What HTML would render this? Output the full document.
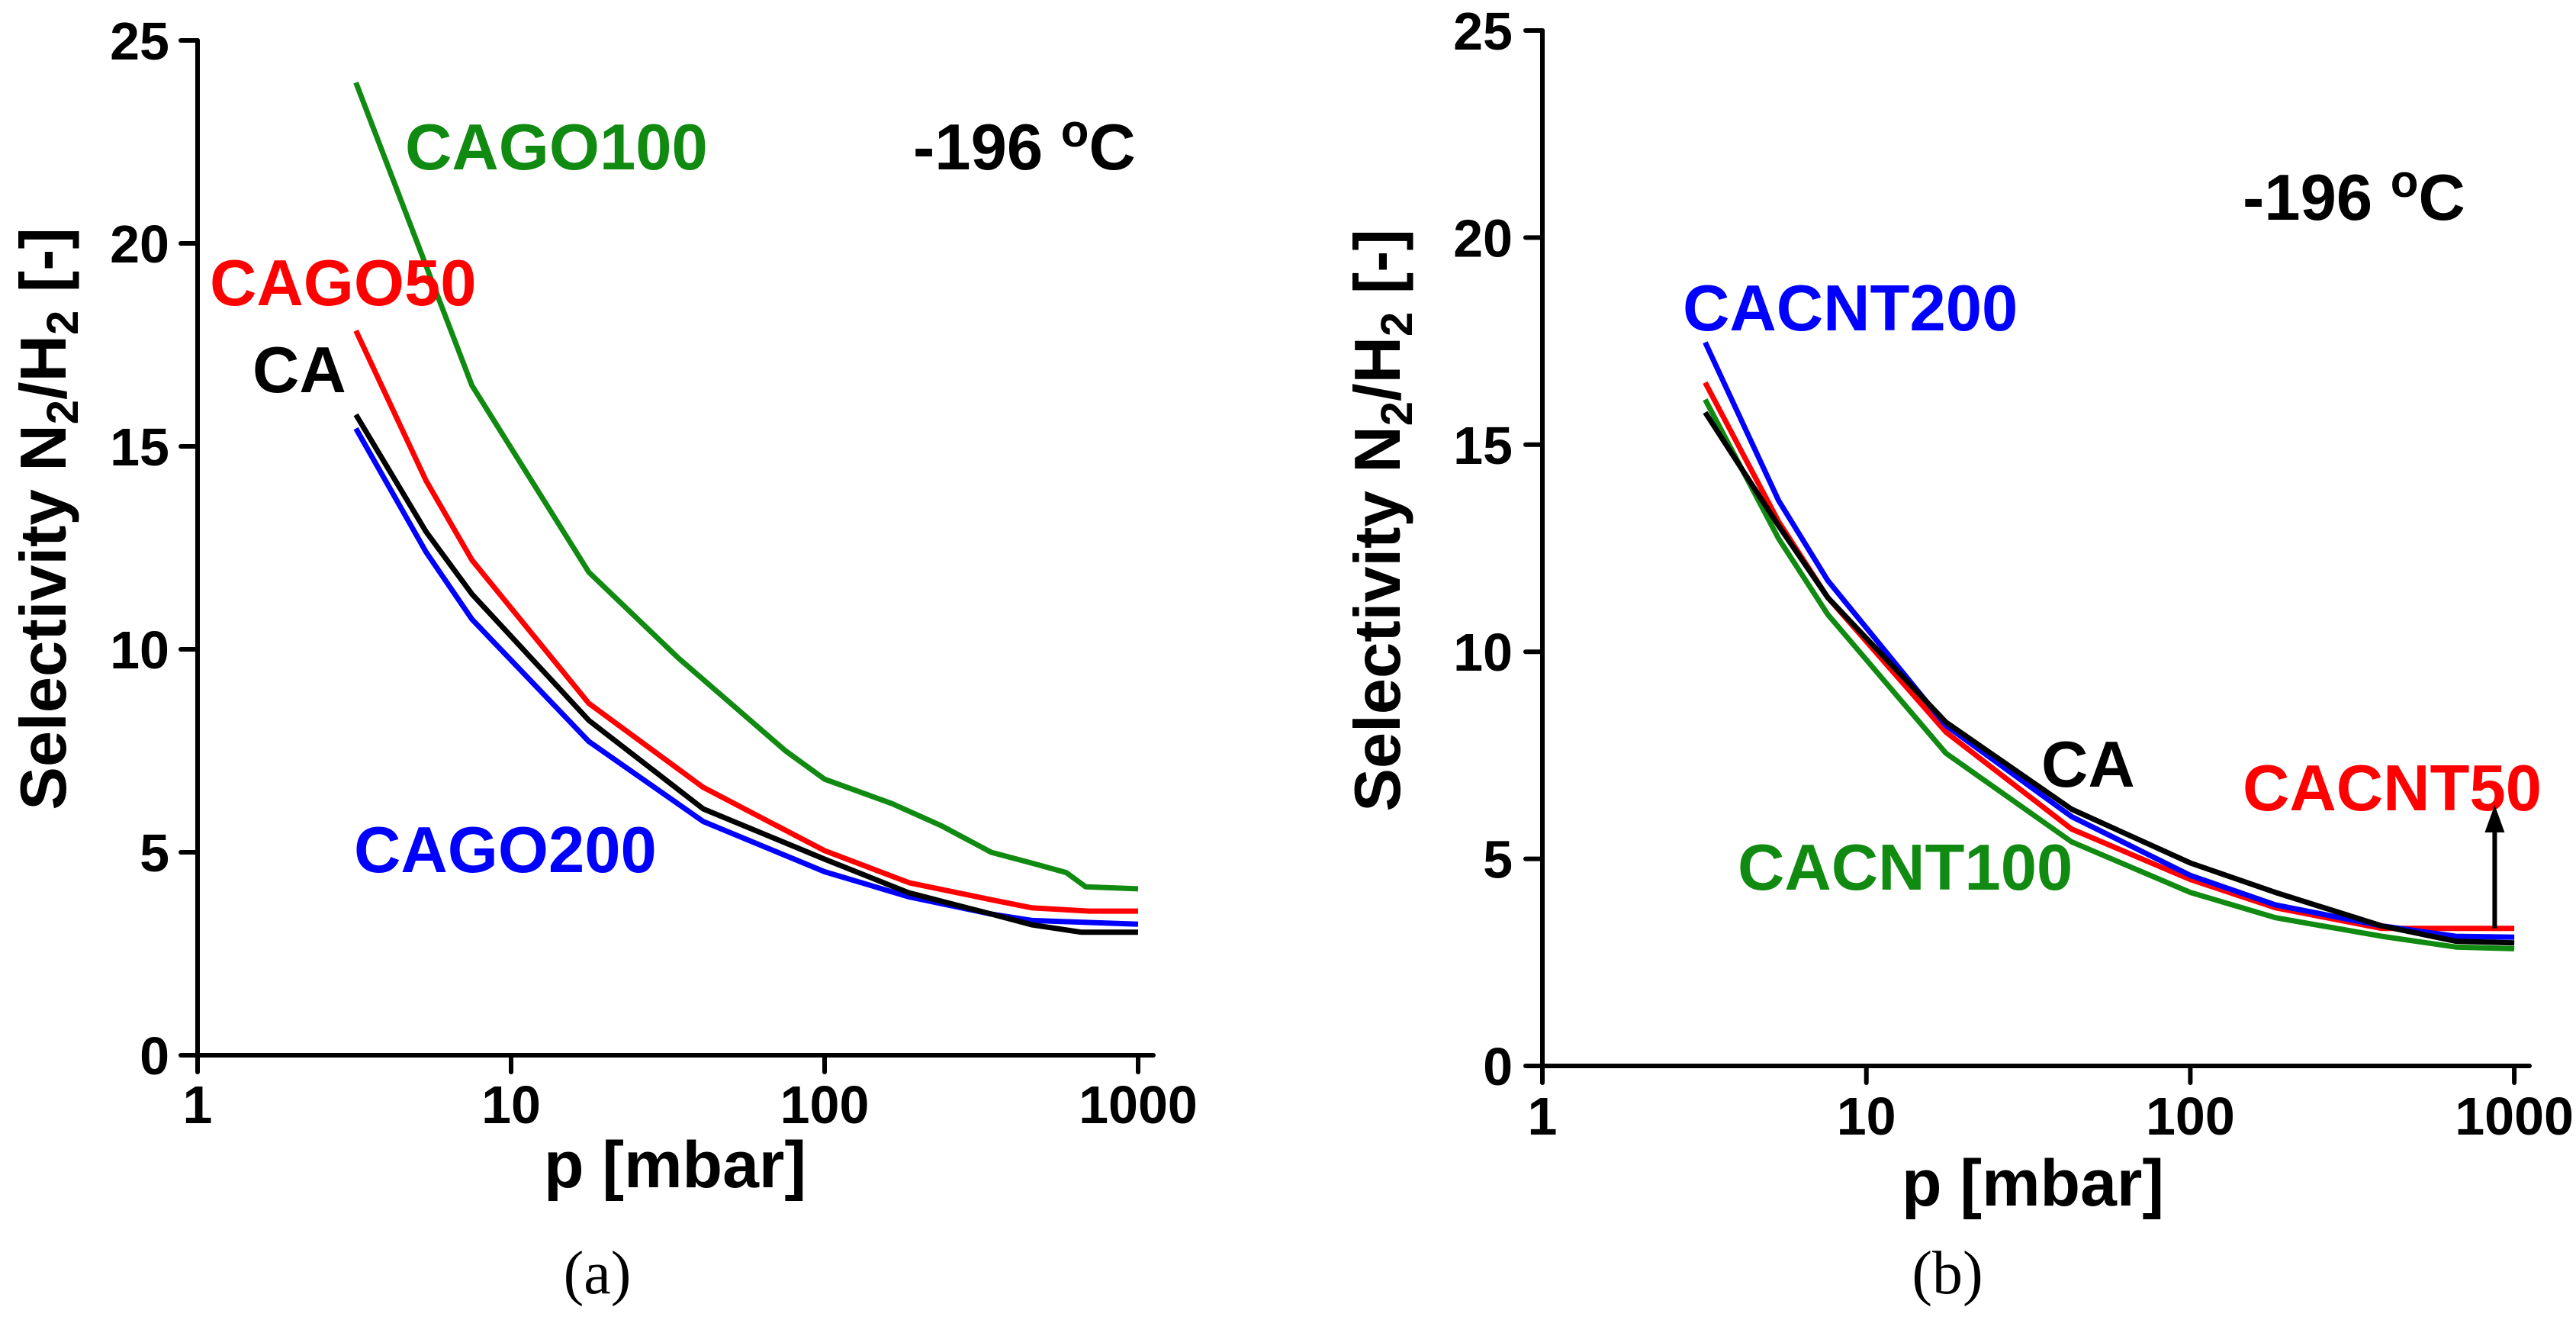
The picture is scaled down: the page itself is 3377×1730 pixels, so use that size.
<!DOCTYPE html>
<html><head><meta charset="utf-8"><style>
html,body{margin:0;padding:0;background:#fff;}
svg{display:block;font-family:"Liberation Sans",Arial,sans-serif;}
</style></head>
<body>
<svg id="fig" width="3377" height="1730" viewBox="0 0 3377 1730" xmlns="http://www.w3.org/2000/svg">
<g id="chartA"></g>
<g id="chartB"></g>
</svg>
<script>
// ---- shared axis data ----
const xTickValues = [1, 10, 100, 1000];
const xTickLabels = ["1", "10", "100", "1000"];
const yTickValues = [0, 5, 10, 15, 20, 25];
const yTickLabels = ["0", "5", "10", "15", "20", "25"];

// ---- chart (a) data ----
const pA_CAGO100 = [3.2, 7.5, 17.7, 34, 75, 100, 164, 235, 340, 460, 590, 680, 1000];
const sA_CAGO100 = [23.96, 16.5, 11.9, 9.8, 7.5, 6.8, 6.2, 5.66, 5.0, 4.73, 4.5, 4.15, 4.1];
const pA_CAGO50 = [3.2, 5.35, 7.5, 17.7, 41, 100, 186, 340, 460, 700, 1000];
const sA_CAGO50 = [17.85, 14.16, 12.2, 8.67, 6.6, 5.04, 4.25, 3.83, 3.63, 3.55, 3.55];
const pA_CA = [3.2, 5.35, 7.5, 17.7, 41, 100, 186, 340, 460, 660, 1000];
const sA_CA = [15.78, 12.9, 11.36, 8.25, 6.07, 4.83, 4.0, 3.48, 3.21, 3.03, 3.03];
const pA_CAGO200 = [3.2, 5.35, 7.5, 17.7, 41, 100, 186, 340, 460, 1000];
const sA_CAGO200 = [15.44, 12.4, 10.74, 7.73, 5.76, 4.52, 3.9, 3.48, 3.32, 3.23];

// ---- chart (b) data ----
const pB_CACNT200 = [3.18, 5.36, 7.6, 17.6, 43, 100, 183, 390, 660, 1000];
const sB_CACNT200 = [17.47, 13.65, 11.72, 8.22, 6.02, 4.6, 3.89, 3.38, 3.13, 3.11];
const pB_CA = [3.18, 5.36, 7.6, 17.6, 43, 100, 183, 390, 660, 1000];
const sB_CA = [15.78, 13.04, 11.31, 8.3, 6.2, 4.9, 4.19, 3.38, 3.01, 2.97];
const pB_CACNT50 = [3.18, 5.36, 7.6, 17.6, 43, 100, 183, 390, 1000];
const sB_CACNT50 = [16.5, 13.14, 11.31, 8.06, 5.72, 4.5, 3.82, 3.32, 3.32];
const pB_CACNT100 = [3.18, 5.36, 7.6, 17.6, 43, 100, 183, 390, 660, 1000];
const sB_CACNT100 = [16.09, 12.73, 10.9, 7.55, 5.41, 4.19, 3.58, 3.13, 2.87, 2.83];
const arrowFromB = [870, 3.32];
const arrowToB = [870, 6.3];

const NS = "http://www.w3.org/2000/svg";
function mk(parent, tag, attrs, text) {
  const e = document.createElementNS(NS, tag);
  for (const k in attrs) e.setAttribute(k, attrs[k]);
  if (text !== undefined) e.textContent = text;
  parent.appendChild(e);
  return e;
}

function drawChart(g, cfg) {
  const X = v => cfg.x0 + Math.log10(v) * cfg.dec;
  const Y = v => cfg.y0 - v * cfg.unit;
  // axes
  const ya = mk(g, "line", {x1: X(1), y1: Y(0), x2: X(1), y2: Y(25), stroke: "#000", "stroke-width": 6, "stroke-linecap": "round"});
  
  
  const xa = mk(g, "line", {x1: X(1), y1: Y(0), x2: cfg.xEnd, y2: Y(0), stroke: "#000", "stroke-width": 6, "stroke-linecap": "round"});
  
  
  yTickValues.forEach((v, i) => {
    const t = mk(g, "line", {x1: X(1) - 22, y1: Y(v), x2: X(1), y2: Y(v), stroke: "#000", "stroke-width": 6, "stroke-linecap": "round"});
    
    
    const l = mk(g, "text", {x: cfg.yLabelRight, y: Y(v) + 25, "text-anchor": "end", "font-size": 70, "font-weight": "bold"}, yTickLabels[i]);
    
    
  });
  xTickValues.forEach((v, i) => {
    const t = mk(g, "line", {x1: X(v), y1: Y(0), x2: X(v), y2: Y(0) + 22, stroke: "#000", "stroke-width": 6, "stroke-linecap": "round"});
    
    
    const l = mk(g, "text", {x: X(v), y: cfg.xLabelBase, "text-anchor": "middle", "font-size": 70, "font-weight": "bold"}, xTickLabels[i]);
    
    
  });
  // series
  cfg.series.forEach(s => {
    const d = s.p.map((p, i) => (i ? "L" : "M") + X(p).toFixed(1) + "," + Y(s.s[i]).toFixed(1)).join(" ");
    const path = mk(g, "path", {d: d, fill: "none", stroke: s.color, "stroke-width": 7, "stroke-linejoin": "round"});
    
    
  });
  // labels
  cfg.labels.forEach(L => {
    const t = mk(g, "text", {x: L.x, y: L.y, fill: L.color, "font-size": 85, "font-weight": "bold"}, L.text);
    
    
  });
  // temperature
  const tt = mk(g, "text", {x: cfg.tempX, y: cfg.tempY, "font-size": 85, "font-weight": "bold"});
  
  
  tt.appendChild(document.createTextNode("-196 "));
  mk(tt, "tspan", {dy: -30, "font-size": 60}, "o");
  mk(tt, "tspan", {dy: 30}, "C");
  // y title
  const yt = mk(g, "text", {x: 0, y: 0, "font-size": 85, "font-weight": "bold", "text-anchor": "middle",
    transform: "translate(" + cfg.yTitleX + "," + cfg.yTitleY + ") rotate(-90)"});
  
  
  yt.appendChild(document.createTextNode("Selectivity N"));
  mk(yt, "tspan", {dy: 16, "font-size": 58}, "2");
  mk(yt, "tspan", {dy: -16}, "/H");
  mk(yt, "tspan", {dy: 16, "font-size": 58}, "2");
  mk(yt, "tspan", {dy: -16}, " [-]");
  // x title
  const xt = mk(g, "text", {x: cfg.xTitleX, y: cfg.xTitleY, "font-size": 86, "font-weight": "bold"}, "p [mbar]");
  
  
  const cap = mk(g, "text", {x: cfg.capX, y: 1695, "font-size": 80, "text-anchor": "middle", "font-family": "Liberation Serif, serif"}, cfg.cap);
  
  
  return {X, Y};
}

drawChart(document.getElementById("chartA"), {
  x0: 259, dec: 411, y0: 1383, unit: 53.2, xEnd: 1512, yLabelRight: 222, xLabelBase: 1472,
  series: [
    {name: "line-cago100", p: pA_CAGO100, s: sA_CAGO100, color: "#108a10"},
    {name: "line-cago50", p: pA_CAGO50, s: sA_CAGO50, color: "#ff0000"},
    {name: "line-cago200", p: pA_CAGO200, s: sA_CAGO200, color: "#0000ff"},
    {name: "line-ca", p: pA_CA, s: sA_CA, color: "#000000"}
  ],
  labels: [
    {name: "label-cago100", text: "CAGO100", x: 531, y: 222, color: "#108a10"},
    {name: "label-cago50", text: "CAGO50", x: 275, y: 400, color: "#ff0000"},
    {name: "label-ca", text: "CA", x: 331, y: 514, color: "#000"},
    {name: "label-cago200", text: "CAGO200", x: 464, y: 1143, color: "#0000ff"}
  ],
  tempX: 1197, tempY: 222, yTitleX: 86, yTitleY: 680,
  xTitleX: 713, xTitleY: 1556, capX: 783, cap: "(a)"
});

const axB = drawChart(document.getElementById("chartB"), {
  x0: 2022, dec: 424.7, y0: 1397, unit: 54.28, xEnd: 3316, yLabelRight: 1983, xLabelBase: 1487,
  series: [
    {name: "line-cacnt100", p: pB_CACNT100, s: sB_CACNT100, color: "#108a10"},
    {name: "line-cacnt50", p: pB_CACNT50, s: sB_CACNT50, color: "#ff0000"},
    {name: "line-cacnt200", p: pB_CACNT200, s: sB_CACNT200, color: "#0000ff"},
    {name: "line-ca-b", p: pB_CA, s: sB_CA, color: "#000000"}
  ],
  labels: [
    {name: "label-cacnt200", text: "CACNT200", x: 2206, y: 433, color: "#0000ff"},
    {name: "label-ca-b", text: "CA", x: 2676, y: 1031, color: "#000"},
    {name: "label-cacnt50", text: "CACNT50", x: 2940, y: 1062, color: "#ff0000"},
    {name: "label-cacnt100", text: "CACNT100", x: 2278, y: 1166, color: "#108a10"}
  ],
  tempX: 2940, tempY: 288, yTitleX: 1835, yTitleY: 682,
  xTitleX: 2493, xTitleY: 1580, capX: 2553, cap: "(b)"
});

// arrow in chart b
(function () {
  const g = document.getElementById("chartB");
  const x1 = axB.X(arrowFromB[0]), y1 = axB.Y(arrowFromB[1]);
  const x2 = axB.X(arrowToB[0]), y2 = axB.Y(arrowToB[1]);
  const ln = mk(g, "line", {x1: x1, y1: y1, x2: x2, y2: y2 + 30, stroke: "#000", "stroke-width": 6});
  
  
  const hd = mk(g, "polygon", {points: (x2 - 13) + "," + (y2 + 36) + " " + (x2 + 13) + "," + (y2 + 36) + " " + x2 + "," + y2, fill: "#000"});
  
  
})();
</script>
</body></html>
